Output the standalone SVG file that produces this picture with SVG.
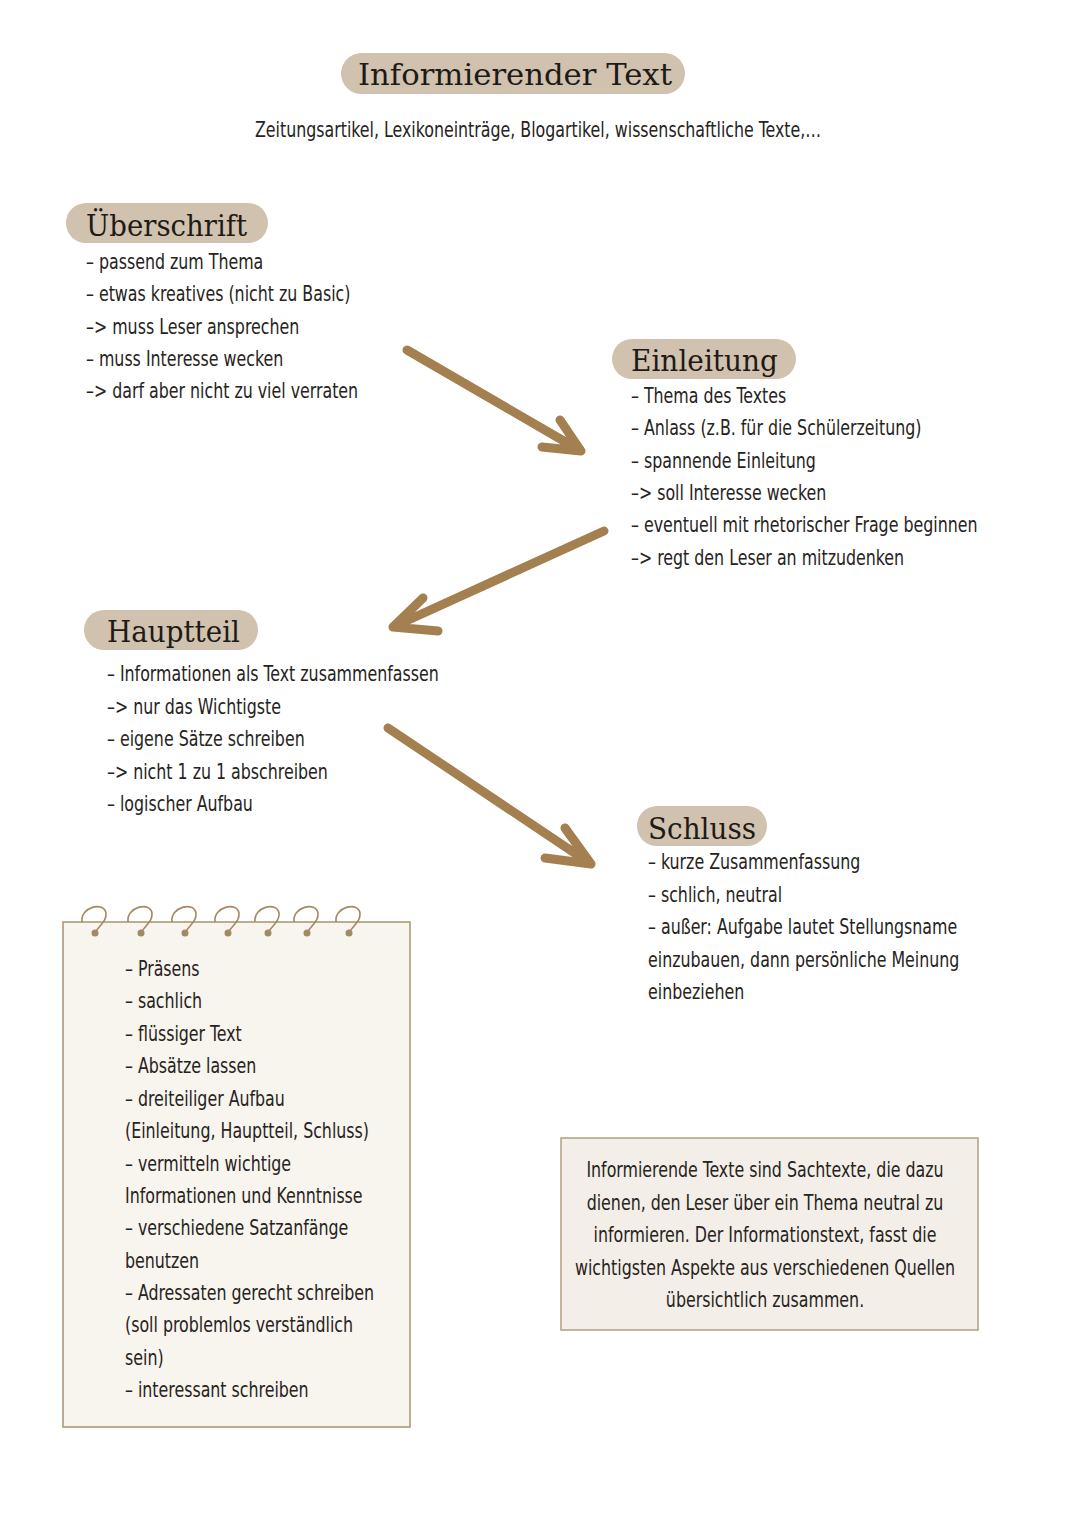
<svg xmlns="http://www.w3.org/2000/svg" width="1080" height="1527" viewBox="0 0 1080 1527">
<defs>
<style>
.pill{fill:#d0c2ae;}
.head{font-family:"DejaVu Serif","Liberation Serif",serif;font-size:29px;fill:#1e1a16;}
.body{font-family:"DejaVu Sans Condensed","DejaVu Sans","Liberation Sans",sans-serif;font-size:22px;fill:#262320;}
.mid{text-anchor:middle;}
.arrow{fill:none;stroke:#a47f4f;stroke-width:9;stroke-linecap:round;stroke-linejoin:round;}
.ring{fill:none;stroke:#a48a62;stroke-width:1.6;}
.dot{fill:#a48a62;}
</style>
</defs>
<rect width="1080" height="1527" fill="#ffffff"/>

<g id="title">
<rect class="pill" x="341" y="53" width="344" height="41" rx="20.5"/>
<text class="head" x="358" y="85" textLength="314" lengthAdjust="spacingAndGlyphs">Informierender Text</text>
<text class="body mid" transform="translate(538,137) scale(0.8,1)">Zeitungsartikel, Lexikoneinträge, Blogartikel, wissenschaftliche Texte,…</text>
</g>

<g id="ueberschrift">
<rect class="pill" x="66" y="203" width="202" height="40" rx="20"/>
<text class="head" x="86" y="236" textLength="161" lengthAdjust="spacingAndGlyphs">Überschrift</text>
<text class="body" transform="translate(86,269) scale(0.8,1)">– passend zum Thema</text>
<text class="body" transform="translate(86,301) scale(0.8,1)">– etwas kreatives (nicht zu Basic)</text>
<text class="body" transform="translate(86,334) scale(0.8,1)">–&gt; muss Leser ansprechen</text>
<text class="body" transform="translate(86,366) scale(0.8,1)">– muss Interesse wecken</text>
<text class="body" transform="translate(86,398) scale(0.8,1)">–&gt; darf aber nicht zu viel verraten</text>
</g>

<g id="einleitung">
<rect class="pill" x="612" y="339" width="184" height="40" rx="20"/>
<text class="head" x="631" y="371" textLength="147" lengthAdjust="spacingAndGlyphs">Einleitung</text>
<text class="body" transform="translate(631,403) scale(0.8,1)">– Thema des Textes</text>
<text class="body" transform="translate(631,435) scale(0.8,1)">– Anlass (z.B. für die Schülerzeitung)</text>
<text class="body" transform="translate(631,468) scale(0.8,1)">– spannende Einleitung</text>
<text class="body" transform="translate(631,500) scale(0.8,1)">–&gt; soll Interesse wecken</text>
<text class="body" transform="translate(631,532) scale(0.8,1)">– eventuell mit rhetorischer Frage beginnen</text>
<text class="body" transform="translate(631,565) scale(0.8,1)">–&gt; regt den Leser an mitzudenken</text>
</g>

<g id="hauptteil">
<rect class="pill" x="84" y="610" width="174" height="40" rx="20"/>
<text class="head" x="107" y="642" textLength="133" lengthAdjust="spacingAndGlyphs">Hauptteil</text>
<text class="body" transform="translate(107,681) scale(0.8,1)">– Informationen als Text zusammenfassen</text>
<text class="body" transform="translate(107,714) scale(0.8,1)">–&gt; nur das Wichtigste</text>
<text class="body" transform="translate(107,746) scale(0.8,1)">– eigene Sätze schreiben</text>
<text class="body" transform="translate(107,779) scale(0.8,1)">–&gt; nicht 1 zu 1 abschreiben</text>
<text class="body" transform="translate(107,811) scale(0.8,1)">– logischer Aufbau</text>
</g>

<g id="schluss">
<rect class="pill" x="637" y="806" width="130" height="40" rx="20"/>
<text class="head" x="648" y="839" textLength="108" lengthAdjust="spacingAndGlyphs">Schluss</text>
<text class="body" transform="translate(648,869) scale(0.8,1)">– kurze Zusammenfassung</text>
<text class="body" transform="translate(648,902) scale(0.8,1)">– schlich, neutral</text>
<text class="body" transform="translate(648,934) scale(0.8,1)">– außer: Aufgabe lautet Stellungsname</text>
<text class="body" transform="translate(648,967) scale(0.8,1)">einzubauen, dann persönliche Meinung</text>
<text class="body" transform="translate(648,999) scale(0.8,1)">einbeziehen</text>
</g>

<g id="notizblock">
<rect x="63" y="922" width="347" height="505" fill="#f8f4ee" stroke="#a8936f" stroke-width="1.5"/>
<g id="ringe">
<path class="ring" d="M82,922 C80,907 104,901 106,913 C107,922 98,926 95,933"/><circle class="dot" cx="95" cy="933" r="3.5"/>
<path class="ring" d="M128,922 C126,907 150,901 152,913 C153,922 144,926 141,933"/><circle class="dot" cx="141" cy="933" r="3.5"/>
<path class="ring" d="M172,922 C170,907 194,901 196,913 C197,922 188,926 185,933"/><circle class="dot" cx="185" cy="933" r="3.5"/>
<path class="ring" d="M215,922 C213,907 237,901 239,913 C240,922 231,926 228,933"/><circle class="dot" cx="228" cy="933" r="3.5"/>
<path class="ring" d="M255,922 C253,907 277,901 279,913 C280,922 271,926 268,933"/><circle class="dot" cx="268" cy="933" r="3.5"/>
<path class="ring" d="M294,922 C292,907 316,901 318,913 C319,922 310,926 307,933"/><circle class="dot" cx="307" cy="933" r="3.5"/>
<path class="ring" d="M336,922 C334,907 358,901 360,913 C361,922 352,926 349,933"/><circle class="dot" cx="349" cy="933" r="3.5"/>
</g>
<text class="body" transform="translate(125,976) scale(0.8,1)">– Präsens</text>
<text class="body" transform="translate(125,1008) scale(0.8,1)">– sachlich</text>
<text class="body" transform="translate(125,1041) scale(0.8,1)">– flüssiger Text</text>
<text class="body" transform="translate(125,1073) scale(0.8,1)">– Absätze lassen</text>
<text class="body" transform="translate(125,1106) scale(0.8,1)">– dreiteiliger Aufbau</text>
<text class="body" transform="translate(125,1138) scale(0.8,1)">(Einleitung, Hauptteil, Schluss)</text>
<text class="body" transform="translate(125,1171) scale(0.8,1)">– vermitteln wichtige</text>
<text class="body" transform="translate(125,1203) scale(0.8,1)">Informationen und Kenntnisse</text>
<text class="body" transform="translate(125,1235) scale(0.8,1)">– verschiedene Satzanfänge</text>
<text class="body" transform="translate(125,1268) scale(0.8,1)">benutzen</text>
<text class="body" transform="translate(125,1300) scale(0.8,1)">– Adressaten gerecht schreiben</text>
<text class="body" transform="translate(125,1332) scale(0.8,1)">(soll problemlos verständlich</text>
<text class="body" transform="translate(125,1365) scale(0.8,1)">sein)</text>
<text class="body" transform="translate(125,1397) scale(0.8,1)">– interessant schreiben</text>
</g>

<g id="definition">
<rect x="561" y="1138" width="417" height="192" fill="#f3efe8" stroke="#b0a080" stroke-width="1.5"/>
<text class="body mid" transform="translate(765,1177) scale(0.8,1)">Informierende Texte sind Sachtexte, die dazu</text>
<text class="body mid" transform="translate(765,1210) scale(0.8,1)">dienen, den Leser über ein Thema neutral zu</text>
<text class="body mid" transform="translate(765,1242) scale(0.8,1)">informieren. Der Informationstext, fasst die</text>
<text class="body mid" transform="translate(765,1275) scale(0.8,1)">wichtigsten Aspekte aus verschiedenen Quellen</text>
<text class="body mid" transform="translate(765,1307) scale(0.8,1)">übersichtlich zusammen.</text>
</g>

<g id="connectors">
<path class="arrow" d="M407,350 L581,451 M560,420 L581,451 L542,447"/>
<path class="arrow" d="M604,531 L393,627 M423,598 L393,627 L438,631"/>
<path class="arrow" d="M388,728 L591,864 M565,828 L591,864 L545,858"/>
</g>
</svg>
